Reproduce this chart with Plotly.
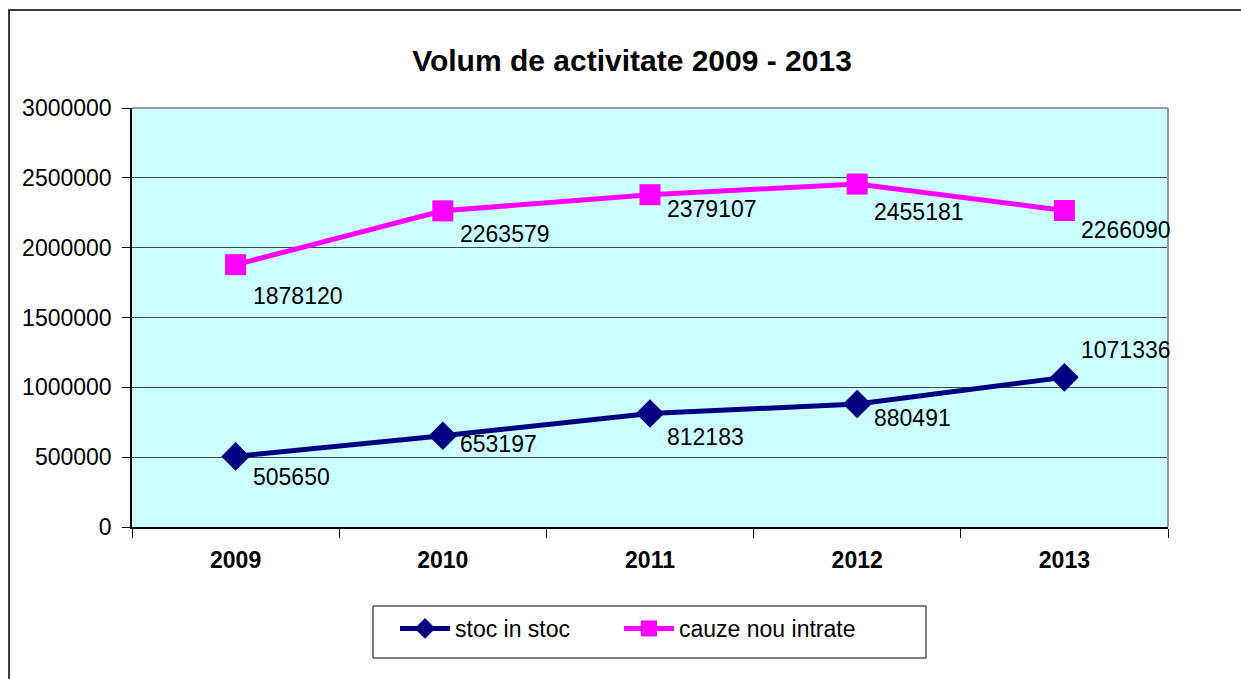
import plotly.graph_objects as go

years = ["2009", "2010", "2011", "2012", "2013"]
stoc_in_stoc = [505650, 653197, 812183, 880491, 1071336]
cauze_nou_intrate = [1878120, 2263579, 2379107, 2455181, 2266090]
series_names = ["stoc in stoc", "cauze nou intrate"]
title_text = "Volum de activitate 2009 - 2013"

# label vertical offsets (px, positive = below point)
stoc_label_dy = [21, 8, 23, 14, -27]
cauze_label_dy = [31, 23, 14, 28, 19]

FONT = "Liberation Sans, Arial, sans-serif"
NAVY = "#000080"
MAGENTA = "#FF00FF"

fig = go.Figure()
fig.add_trace(go.Scatter(
    x=years, y=stoc_in_stoc, name=series_names[0], mode="lines+markers",
    line=dict(color=NAVY, width=5),
    marker=dict(symbol="diamond", size=22, color=NAVY),
    legend="legend",
))
fig.add_trace(go.Scatter(
    x=years, y=cauze_nou_intrate, name=series_names[1], mode="lines+markers",
    line=dict(color=MAGENTA, width=5),
    marker=dict(symbol="square", size=21, color=MAGENTA),
    legend="legend2",
))

annotations = []
for vals, dys in ((stoc_in_stoc, stoc_label_dy), (cauze_nou_intrate, cauze_label_dy)):
    for i, (v, dy) in enumerate(zip(vals, dys)):
        annotations.append(dict(
            x=i, y=v, xref="x", yref="y", text=str(v), showarrow=False,
            xanchor="left", yanchor="middle", xshift=15, yshift=-dy,
            font=dict(family=FONT, size=23, color="black"),
        ))

W, H = 1241, 679
L, T, PR, PB = 132, 108, 1168, 527
R, B = W - PR, H - PB
pw, ph = PR - L, PB - T


def px(x):
    return (x - L) / pw


def py(y):
    return (PB - y) / ph


shapes = [
    # outer chart border (extends past right/bottom edges)
    dict(type="rect", xref="paper", yref="paper",
         x0=px(9), x1=px(W + 30), y0=py(H + 30), y1=py(10),
         line=dict(color="black", width=1.5), fillcolor="rgba(0,0,0,0)", layer="below"),
    # plot area top/right border
    dict(type="line", xref="paper", yref="paper", x0=0, x1=1, y0=1, y1=1,
         line=dict(color="#999999", width=2)),
    dict(type="line", xref="paper", yref="paper", x0=1, x1=1, y0=0, y1=1,
         line=dict(color="#999999", width=2)),
    # legend box
    dict(type="rect", xref="paper", yref="paper",
         x0=px(373), x1=px(926), y0=py(658), y1=py(606),
         line=dict(color="black", width=1), fillcolor="white", layer="below"),
]

legend_common = dict(orientation="h", xanchor="left", yanchor="top",
                     y=py(607), borderwidth=0, bgcolor="rgba(0,0,0,0)",
                     font=dict(family=FONT, size=23, color="black"),
                     itemwidth=50)

fig.update_layout(
    width=W, height=H,
    margin=dict(l=L, r=R, t=T, b=B),
    paper_bgcolor="white",
    plot_bgcolor="#CCFFFF",
    font=dict(family=FONT, size=23, color="black"),
    title=dict(text="<b>" + title_text + "</b>", x=632 / W, xanchor="center",
               y=1 - 60 / H, yanchor="middle", yref="container",
               font=dict(family=FONT, size=30, color="black")),
    showlegend=True,
    legend=dict(x=px(395), **legend_common),
    legend2=dict(x=px(619), **legend_common),
    annotations=annotations,
    shapes=shapes,
)

fig.update_xaxes(
    type="category", range=[-0.5, 4.5],
    tickson="boundaries", ticks="outside", ticklen=9, tickcolor="black",
    showline=True, linecolor="black", linewidth=1.5,
    showgrid=False, zeroline=False,
    tickfont=dict(family=FONT, size=23, color="black", weight="bold"),
    ticklabelstandoff=12,
)
fig.update_yaxes(
    range=[0, 3000000], dtick=500000, tickformat="d",
    ticks="outside", ticklen=8, tickcolor="black",
    showline=True, linecolor="black", linewidth=1.5,
    showgrid=True, gridcolor="#404848", gridwidth=1,
    zeroline=False,
    tickfont=dict(family=FONT, size=23, color="black"),
    ticklabelstandoff=6,
)

fig.write_html(
    "out.html",
    config={"displayModeBar": False},
    post_script="document.body.style.margin='0';document.body.style.overflow='hidden';",
)
